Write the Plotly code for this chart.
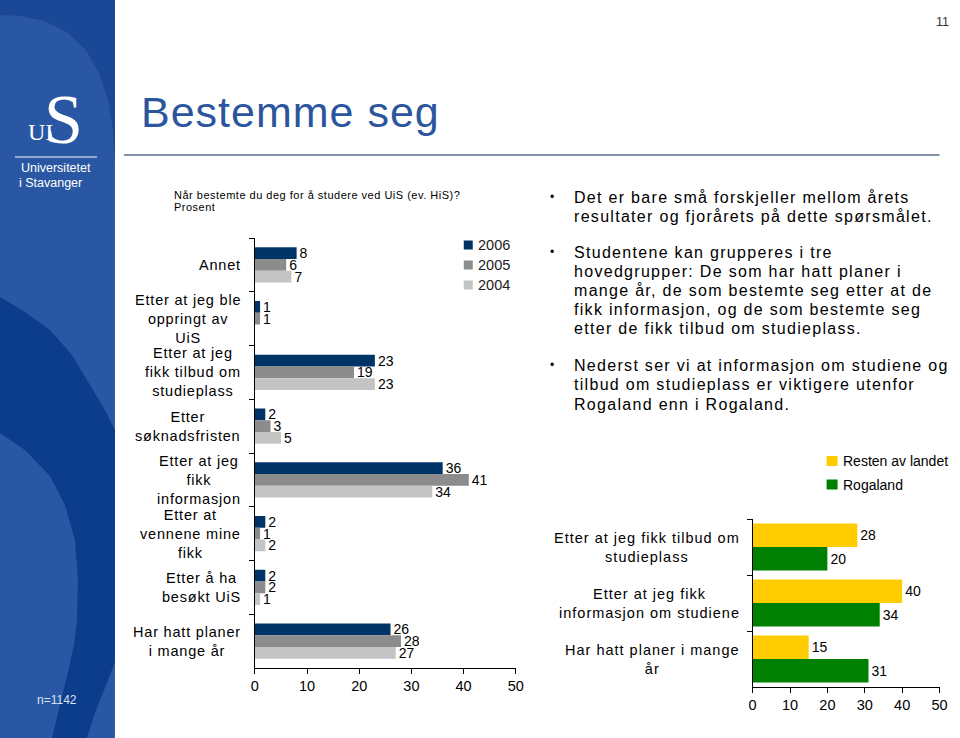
import plotly.graph_objects as go

W, H = 960, 738
# horizontal calibration (measured: rendered x ~= 0.988 * x + 4)
SX, OX = 0.988, 4.0


def px(x):
    return (x - OX) / SX / W


def py(y):
    return 1 - y / H


# ---------------- data ----------------
categories = [
    "Annet",
    "Etter at jeg ble oppringt av UiS",
    "Etter at jeg fikk tilbud om studieplass",
    "Etter søknadsfristen",
    "Etter at jeg fikk informasjon",
    "Etter at vennene mine fikk",
    "Etter å ha besøkt UiS",
    "Har hatt planer i mange år",
]
cat_labels = [
    "Annet",
    "Etter at jeg ble<br>oppringt av<br>UiS",
    "Etter at jeg<br>fikk tilbud om<br>studieplass",
    "Etter<br>søknadsfristen",
    "Etter at jeg<br>fikk<br>informasjon",
    "Etter at<br>vennene mine<br>fikk",
    "Etter å ha<br>besøkt UiS",
    "Har hatt planer<br>i mange år",
]
years = ["2006", "2005", "2004"]
v2006 = [8, 1, 23, 2, 36, 2, 2, 26]
v2005 = [6, 1, 19, 3, 41, 1, 2, 28]
v2004 = [7, None, 23, 5, 34, 2, 1, 27]
x_ticks1 = [0, 10, 20, 30, 40, 50]

categories2 = [
    "Etter at jeg fikk tilbud om studieplass",
    "Etter at jeg fikk informasjon om studiene",
    "Har hatt planer i mange år",
]
cat_labels2 = [
    "Etter at jeg fikk tilbud om<br>studieplass",
    "Etter at jeg fikk<br>informasjon om studiene",
    "Har hatt planer i mange<br>år",
]
regions = ["Resten av landet", "Rogaland"]
resten = [28, 40, 15]
rogaland = [20, 34, 31]
x_ticks2 = [0, 10, 20, 30, 40, 50]

bullets = [
    ["Det er bare små forskjeller mellom årets",
     "resultater og fjorårets på dette spørsmålet."],
    ["Studentene kan grupperes i tre",
     "hovedgrupper: De som har hatt planer i",
     "mange år, de som bestemte seg etter at de",
     "fikk informasjon, og de som bestemte seg",
     "etter de fikk tilbud om studieplass."],
    ["Nederst ser vi at informasjon om studiene og",
     "tilbud om studieplass er viktigere utenfor",
     "Rogaland enn i Rogaland."],
]

# ---------------- styling ----------------
FONT = "Liberation Sans, Arial, sans-serif"
SERIF = "Liberation Serif, DejaVu Serif, serif"
col_years = ["#003366", "#8c8c8c", "#c4c4c4"]
col_regions = ["#ffcc00", "#008000"]
PANEL = "#2a57a3"
PANEL_TOP = "#1b4797"
PANEL_DARK = "#0c3c8c"
TITLE_COL = "#2b559c"


def spaced(text, sp):
    """wrap each line in a span with CSS letter-spacing"""
    return "<br>".join(f"<span style='letter-spacing:{sp}px'>{ln}</span>"
                       for ln in text.split("<br>"))


fig = go.Figure()

# chart 1 bars
w1 = 0.218
offs1 = [-1.5 * w1, -0.5 * w1, 0.5 * w1]
for name, vals, c, o in zip(years, [v2006, v2005, v2004], col_years, offs1):
    fig.add_trace(go.Bar(
        y=categories, x=vals, orientation="h", name=name,
        marker=dict(color=c, line=dict(width=0)),
        width=w1, offset=o,
        text=["" if v is None else str(v) for v in vals],
        textposition="outside", constraintext="none", cliponaxis=False,
        textfont=dict(family=FONT, size=14, color="black"),
        xaxis="x", yaxis="y", showlegend=False, hoverinfo="skip",
    ))

# chart 2 bars
w2 = 0.42
offs2 = [-w2, 0.0]
for name, vals, c, o in zip(regions, [resten, rogaland], col_regions, offs2):
    fig.add_trace(go.Bar(
        y=categories2, x=vals, orientation="h", name=name,
        marker=dict(color=c, line=dict(width=0)),
        width=w2, offset=o,
        text=[str(v) for v in vals],
        textposition="outside", constraintext="none", cliponaxis=False,
        textfont=dict(family=FONT, size=14, color="black"),
        xaxis="x2", yaxis="y2", showlegend=False, hoverinfo="skip",
    ))

axis_common = dict(showline=True, linecolor="black", linewidth=1,
                   ticks="outside", ticklen=5, tickcolor="black",
                   showgrid=False, zeroline=False,
                   tickfont=dict(family=FONT, size=14.5, color="black"))

shapes = []
annotations = []


def note(text, x, y, size, color="black", family=FONT, xanchor="left",
         yanchor="middle", xref="paper", yref="paper", align="left"):
    annotations.append(dict(text=text, x=x, y=y, xref=xref, yref=yref,
                            xanchor=xanchor, yanchor=yanchor, align=align,
                            showarrow=False,
                            font=dict(family=family, size=size, color=color)))


def poly(points, color):
    path = "M " + " L ".join(f"{max(px(x), -0.01):.5f},{py(y):.5f}"
                             for x, y in points) + " Z"
    shapes.append(dict(type="path", xref="paper", yref="paper", path=path,
                       fillcolor=color, line=dict(width=0), layer="below"))


# left panel
shapes.append(dict(type="rect", xref="paper", yref="paper",
                   x0=-0.01, x1=px(115), y0=0, y1=1,
                   fillcolor=PANEL, line=dict(width=0), layer="below"))
poly([(0, 0), (115, 0), (115, 170), (113, 130), (108, 100), (99, 73), (86, 50),
      (68, 33), (45, 21), (20, 16), (0, 15)], PANEL_TOP)
poly([(0, 297), (25, 312), (50, 330), (72, 355), (90, 385), (105, 410), (115, 430),
      (115, 662), (105, 688), (95, 713), (87, 738), (52, 738),
      (60, 705), (68, 672), (74, 645), (77, 620), (78, 580), (75, 540),
      (65, 505), (50, 476), (25, 450), (0, 433)], PANEL_DARK)
# logo
shapes.append(dict(type="line", xref="paper", yref="paper",
                   x0=px(15), x1=px(97), y0=py(157), y1=py(157),
                   line=dict(color="white", width=1)))
note("S", px(64), py(119), 70, "white", SERIF, xanchor="center")
note("UI", px(41), py(132), 24, "white", SERIF, xanchor="center")
note("Universitetet", px(56), py(168), 12.5, "white", xanchor="center")
note("i Stavanger", px(51), py(183), 12.5, "white", xanchor="center")
note("n=1142", px(57), py(700), 12, "#d8e2f2", xanchor="center")

# title & header
note(spaced("Bestemme seg", 1), px(139), py(112), 43, TITLE_COL)
note("11", 0.999, py(22), 12.5, "#333333", xanchor="right")
note(spaced("Når bestemte du deg for å studere ved UiS (ev. HiS)?", 0.5),
     px(172), py(195), 11)
note(spaced("Prosent", 0.5), px(172), py(207), 11)
shapes.append(dict(type="line", xref="paper", yref="paper",
                   x0=px(124), x1=px(940), y0=py(155), y1=py(155),
                   line=dict(color="#5c6f8e", width=1.5)))

# bullets
bullet_y = [[197, 216], [252, 271, 290, 309, 328], [365, 384, 404]]
for lines, ys in zip(bullets, bullet_y):
    note("•", px(548), py(ys[0]), 12)
    for t, yy in zip(lines, ys):
        note(spaced(t, 1.3), px(572), py(yy), 16)

# chart 1 category labels
for c, lab in zip(categories, cat_labels):
    note(spaced(lab, 0.8), px(243), c, 14.5, xanchor="right", yref="y", align="center")
# chart 2 category labels
for c, lab in zip(categories2, cat_labels2):
    note(spaced(lab, 1), px(742), c, 14.5, xanchor="right", yref="y2", align="center")

# legend 1 (manual)
for i, (name, c) in enumerate(zip(years, col_years)):
    yc = 245 + 20 * i
    shapes.append(dict(type="rect", xref="paper", yref="paper",
                       x0=px(464), x1=px(473), y0=py(yc + 4.5), y1=py(yc - 4.5),
                       fillcolor=c, line=dict(width=0)))
    note(name, px(476), py(yc), 14.5, "#222222")
# legend 2 (manual)
for i, (name, c) in enumerate(zip(regions, col_regions)):
    yc = 461 + 23.5 * i
    shapes.append(dict(type="rect", xref="paper", yref="paper",
                       x0=px(827), x1=px(838), y0=py(yc + 5), y1=py(yc - 5),
                       fillcolor=c, line=dict(width=0)))
    note(name, px(841), py(yc), 14)

fig.update_layout(
    width=W, height=H,
    autosize=False,
    margin=dict(l=0, r=0, t=0, b=0),
    paper_bgcolor="white", plot_bgcolor="rgba(0,0,0,0)",
    barmode="group",
    showlegend=False,
    xaxis=dict(domain=[px(255), px(516)], range=[0, 50], tickvals=x_ticks1,
               anchor="y", **axis_common),
    yaxis=dict(domain=[py(668), py(238)], range=[len(categories) - 0.5, -0.5],
               type="category", tickson="boundaries", showticklabels=False,
               anchor="x", **axis_common),
    xaxis2=dict(domain=[px(753), px(940)], range=[0, 50], tickvals=x_ticks2,
                anchor="y2", **axis_common),
    yaxis2=dict(domain=[py(687), py(519)], range=[len(categories2) - 0.5, -0.5],
                type="category", tickson="boundaries", showticklabels=False,
                anchor="x2", **axis_common),
    shapes=shapes,
    annotations=annotations,
)

fig.write_html(
    "out.html",
    config={"responsive": False, "displayModeBar": False},
    post_script="document.body.style.margin='0';document.body.style.overflow='hidden';",
)
